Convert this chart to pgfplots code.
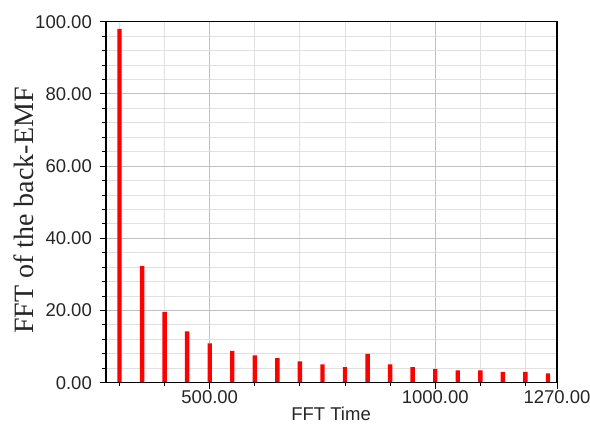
\documentclass[border=0pt]{standalone}
\usepackage{fontspec}
\usepackage{pgfplots}
\pgfplotsset{compat=1.18}
\setmainfont{Liberation Serif}
\newfontfamily\labelsans{Liberation Sans}

\definecolor{gridmajor}{RGB}{192,192,192}
\definecolor{gridminor}{RGB}{224,224,224}

\pgfplotstableread{
freq amp
300 98.0
350 32.3
400 19.6
450 14.2
500 10.9
550 8.8
600 7.6
650 6.8
700 5.9
750 5.1
800 4.3
850 8.0
900 5.1
950 4.3
1000 3.8
1050 3.4
1100 3.4
1150 3.0
1200 3.0
1250 2.6
}\fftdata

\begin{document}
\begin{tikzpicture}
\begin{axis}[
  name=ax,
  scale only axis,
  width=451bp, height=361bp,
  xmin=270, xmax=1270,
  ymin=0, ymax=100,
  xtick={500,1000,1270},
  minor xtick={300,400,600,700,800,900,1100,1200},
  ytick={0,20,...,100},
  minor y tick num=4,
  tick align=outside,
  major tick length=6bp,
  minor tick length=3.5bp,
  tick style={black, line width=0.9bp},
  xtick pos=bottom, ytick pos=left,
  grid=both,
  major grid style={gridmajor, line width=0.9bp},
  minor grid style={gridminor, line width=0.9bp},
  axis line style={black, line width=1.4bp},
  /pgf/number format/assume math mode=true,
  /pgf/number format/fixed,
  /pgf/number format/fixed zerofill,
  /pgf/number format/precision=2,
  /pgf/number format/1000 sep={},
  ticklabel style={font=\labelsans\fontsize{18.5bp}{22bp}\selectfont, text=black!85},
  xticklabel style={inner sep=1bp, yshift=-1bp},
  yticklabel style={inner sep=1bp, xshift=-7bp},
  xlabel={FFT Time},
  xlabel style={font=\labelsans\fontsize{18.5bp}{22bp}\selectfont, text=black!85,
    at={(axis description cs:0.499,-0.087)}, anchor=center},
  ylabel={FFT of the back-EMF},
  ylabel style={font=\fontsize{28bp}{32bp}\selectfont, text=black!85,
    at={(axis description cs:-0.183,0.477)}, anchor=center},
  ybar, bar width=4.4bp,
]
\addplot[fill=red, draw=none] table[x=freq, y=amp] {\fftdata};
\end{axis}
% full-strength frame around the plot area
\draw[black, line width=1.4bp] (ax.south west) rectangle (ax.north east);
\pgfresetboundingbox
\path ([shift={(-106bp,-42.3bp)}]ax.south west) rectangle ([shift={(33bp,21.7bp)}]ax.north east);
\end{tikzpicture}
\end{document}
